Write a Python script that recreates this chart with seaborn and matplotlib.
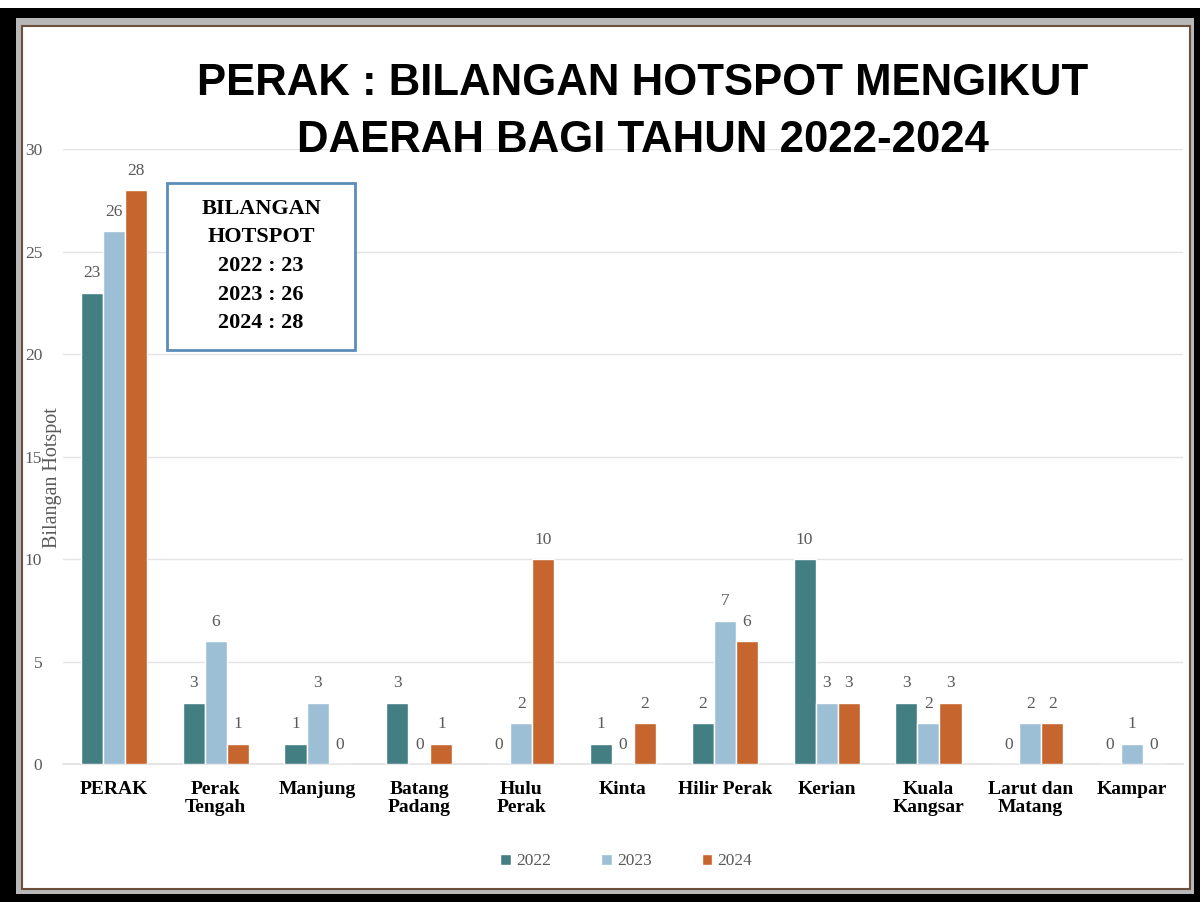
import matplotlib
matplotlib.use("Agg")
import matplotlib.pyplot as plt
import seaborn as sns
import pandas as pd
from matplotlib.patches import Rectangle

categories = ["PERAK", "Perak\nTengah", "Manjung", "Batang\nPadang", "Hulu\nPerak", "Kinta",
              "Hilir Perak", "Kerian", "Kuala\nKangsar", "Larut dan\nMatang", "Kampar"]
years = ["2022", "2023", "2024"]
v2022 = [23, 3, 1, 3, 0, 1, 2, 10, 3, 0, 0]
v2023 = [26, 6, 3, 0, 2, 0, 7, 3, 2, 2, 1]
v2024 = [28, 1, 0, 1, 10, 2, 6, 3, 3, 2, 0]
colors = ["#437E82", "#9DBFD6", "#C6652E"]
yticks = [0, 5, 10, 15, 20, 25, 30]
title = "PERAK : BILANGAN HOTSPOT MENGIKUT\nDAERAH BAGI TAHUN 2022-2024"
box_text = "BILANGAN\nHOTSPOT\n2022 : 23\n2023 : 26\n2024 : 28"

rows = []
for y, vals in zip(years, [v2022, v2023, v2024]):
    for c, v in zip(categories, vals):
        rows.append({"Daerah": c, "Tahun": y, "Bilangan": v})
df = pd.DataFrame(rows)

sns.set_theme(style="white")
serif = ["Liberation Serif", "DejaVu Serif"]
plt.rcParams["font.family"] = serif

W, H = 1202, 902
fig = plt.figure(figsize=(12.02, 9.02), dpi=100)
fig.patch.set_facecolor("white")
def frect(x0, y0, x1, y1, **kw):
    # pixel coords from top-left
    return Rectangle((x0 / W, 1 - y1 / H), (x1 - x0) / W, (y1 - y0) / H,
                     transform=fig.transFigure, **kw)
fig.patches.append(frect(0, 8, 1200, 902, facecolor="black", edgecolor="none", zorder=-10))
fig.patches.append(frect(16, 18, 1194, 894, facecolor="#b8b8b8", edgecolor="none", zorder=-9))
fig.patches.append(frect(22, 26, 1190, 889, facecolor="white", edgecolor="#6b5040",
                         linewidth=1.5, zorder=-8))

ax = fig.add_axes([63 / W, 1 - 764 / H, 1120 / W, (764 - 149) / H])
ax.set_facecolor("none")
sns.barplot(data=df, x="Daerah", y="Bilangan", hue="Tahun", palette=colors,
            order=categories, hue_order=years, width=0.65, saturation=1, ax=ax, zorder=3)

ax.set_ylim(0, 30)
ax.set_xlim(-0.5, len(categories) - 0.5)
ax.set_yticks(yticks)
ax.set_yticklabels([str(t) for t in yticks], color="#595959", fontsize=12.5)
ax.yaxis.grid(True, color="#e3e3e3", linewidth=1, zorder=0)
ax.set_axisbelow(True)
for s in ["top", "right", "left"]:
    ax.spines[s].set_visible(False)
ax.spines["bottom"].set_color("#e3e3e3")
ax.tick_params(axis="y", length=0, pad=15)
ax.tick_params(axis="x", length=0, pad=12)
ax.set_xticks(range(len(categories)))
ax.set_xticklabels(categories, fontsize=14, fontweight="bold", color="black", linespacing=1.1)
ax.set_xlabel("")
ax.set_ylabel("Bilangan Hotspot", color="#595959", fontsize=14.5)
ax.yaxis.set_label_coords(-0.001, 0.465)

for cont in ax.containers:
    ax.bar_label(cont, fmt="%d", padding=8, color="#595959", fontsize=12.5)

leg = ax.legend(loc="upper center", bbox_to_anchor=(0.503, -0.12), ncol=3, frameon=False,
                fontsize=12.5, handlelength=0.6, handleheight=0.6, columnspacing=2.9,
                handletextpad=0.3)
for t in leg.get_texts():
    t.set_color("#595959")

fig.text(643 / W, 1 - 112 / H, title, ha="center", va="center", fontsize=31.5,
         fontweight="heavy", family=["Liberation Sans", "DejaVu Sans"],
         linespacing=1.5, color="black")

# annotation box
fig.patches.append(frect(167, 183, 355, 350, facecolor="white", edgecolor="#5B8DB8",
                         linewidth=2, zorder=5))
fig.text(261 / W, 1 - 266 / H, box_text, ha="center", va="center", fontsize=16,
         fontweight="bold", color="black", linespacing=1.58, zorder=6)

fig.savefig("out.png", dpi=100)
